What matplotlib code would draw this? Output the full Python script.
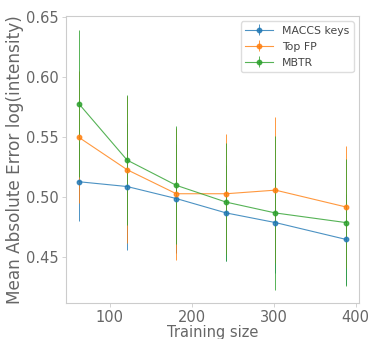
import numpy as np
import matplotlib
matplotlib.use('Agg')
from matplotlib import pyplot as plt

# Learning curves: MAE vs training set size for three descriptors
train_size = [62, 121, 181, 242, 302, 388]

maccs_mae = [0.513, 0.509, 0.499, 0.487, 0.479, 0.465]
maccs_err = [0.033, 0.053, 0.045, 0.040, 0.042, 0.038]

topfp_mae = [0.550, 0.523, 0.503, 0.503, 0.506, 0.492]
topfp_err = [0.055, 0.061, 0.055, 0.050, 0.061, 0.051]

mbtr_mae = [0.578, 0.531, 0.510, 0.496, 0.487, 0.479]
mbtr_err = [0.061, 0.054, 0.049, 0.049, 0.064, 0.053]

series = [('MACCS keys', maccs_mae, maccs_err, 'tab:blue'),
          ('Top FP', topfp_mae, topfp_err, 'tab:orange'),
          ('MBTR', mbtr_mae, mbtr_err, 'tab:green')]

plt.rcParams['font.family'] = 'DejaVu Sans'

fig = plt.figure(figsize=(3.69, 3.39), dpi=100)
ax = fig.add_axes([0.179, 0.106, 0.794, 0.847])

for name, mae, err, col in series:
    ax.errorbar(train_size, mae, yerr=err,
                color=col,
                marker='o',
                markersize=3.2,
                linewidth=0.8,
                elinewidth=0.7,
                alpha=0.8,
                label=name)

ax.set_xlim(46.5, 404)
ax.set_ylim(0.412, 0.651)
ax.set_xticks([100, 200, 300, 400])
ax.set_yticks([0.45, 0.50, 0.55, 0.60, 0.65])

ax.set_xlabel('Training size', fontsize=10.5, color='#666666', labelpad=0)
ax.set_ylabel('Mean Absolute Error log(intensity)', fontsize=12.2,
              color='#666666', labelpad=2)

ax.tick_params(labelsize=10.5, labelcolor='#666666', color='#cccccc',
               length=3, width=0.6, pad=2)
for sp in ax.spines.values():
    sp.set_color('#cccccc')
    sp.set_linewidth(0.8)

leg = ax.legend(loc='upper right', fontsize=7.8, framealpha=1,
                edgecolor='#dddddd', borderaxespad=0.5,
                handlelength=2.6, labelspacing=0.55)
for t in leg.get_texts():
    t.set_color('#444444')

fig.savefig('out.png', dpi=100)
